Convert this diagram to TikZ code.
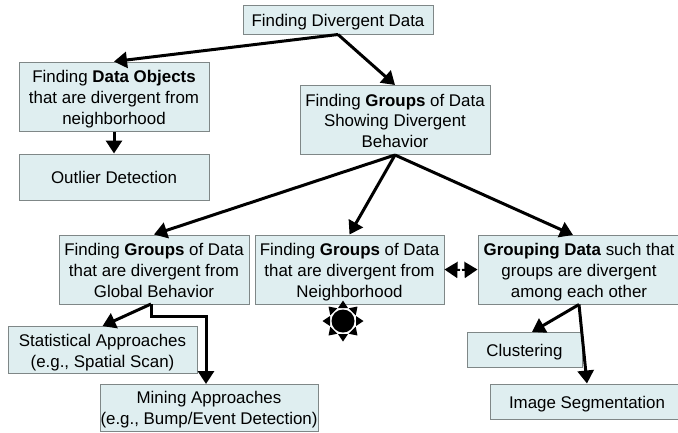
\documentclass[tikz,border=0pt]{standalone}
\usepackage{fontspec}
\setmainfont{Liberation Sans}
\usetikzlibrary{arrows.meta,calc}
\newcommand\boxlines[1]{\vbox{\kern5.4pt\hbox{\begin{tabular}{@{}c@{}}#1\end{tabular}}}}
\tikzset{
  box/.style={draw=boxedge,fill=boxfill,line width=1pt,inner sep=0pt,
    font=\fontsize{16.9}{20.7}\selectfont,text=black},
  conn/.style={draw=black,line width=3pt,-{Triangle[length=13pt,width=16pt]}},
  ray/.style={fill=black,draw=none}
}
\definecolor{boxfill}{HTML}{DFEEF0}
\definecolor{boxedge}{HTML}{7F8787}
\begin{document}
\begin{tikzpicture}[x=1pt,y=-1pt]
\useasboundingbox (0,0) rectangle (678,432);
\node[box,minimum width=190pt,minimum height=29pt] (top) at (338,19.5) {\boxlines{Finding Divergent Data}};
\node[box,minimum width=190pt,minimum height=69pt] (objects) at (114,96.5) {\boxlines{Finding \textbf{Data Objects}\\that are divergent from\\neighborhood}};
\node[box,minimum width=190pt,minimum height=46pt] (outlier) at (114,177) {\boxlines{Outlier Detection}};
\node[box,minimum width=190pt,minimum height=69pt] (groups) at (395,120) {\boxlines{Finding \textbf{Groups} of Data\\Showing Divergent\\Behavior}};
\node[box,minimum width=190pt,minimum height=69pt] (global) at (154,269.5) {\boxlines{Finding \textbf{Groups} of Data\\that are divergent from\\Global Behavior}};
\node[box,minimum width=189pt,minimum height=69pt] (neigh) at (349.5,269.5) {\boxlines{Finding \textbf{Groups} of Data\\that are divergent from\\Neighborhood}};
\node[box,minimum width=202pt,minimum height=69pt] (grouping) at (579,269.5) {\boxlines{\textbf{Grouping Data} such that\\groups are divergent\\among each other}};
\node[box,minimum width=189pt,minimum height=46pt] (stat) at (102.5,350) {\boxlines{Statistical Approaches\\(e.g., Spatial Scan)}};
\node[box,minimum width=218pt,minimum height=47pt] (mining) at (209,407.5) {\boxlines{Mining Approaches\\(e.g., Bump/Event Detection)}};
\node[box,minimum width=115pt,minimum height=35pt] (cluster) at (524.5,349.5) {\boxlines{Clustering}};
\node[box,minimum width=194pt,minimum height=35pt] (image) at (587,401.5) {\boxlines{Image Segmentation}};
% connectors
\coordinate (groupingin) at (573,235);
\coordinate (clusterin) at (532,332);
\coordinate (minein) at (206,384);
\coordinate (elbowa) at (151,316);
\coordinate (elbowb) at (206,316);
\coordinate (bendstart) at (151,304);
\coordinate (midl) at (460,270);
\coordinate (midr) at (462,270);
\draw[conn] (top.south) -- (objects.north);
\draw[conn] (top.south) -- (groups.north);
\draw[conn] (objects.south) -- (outlier.north);
\draw[conn] (groups.south) -- (global.north);
\draw[conn] (groups.south) -- (neigh.north);
\draw[conn] (groups.south) -- (groupingin);
\draw[conn] (bendstart) -- (stat.north);
\draw[conn] (bendstart) -- (elbowa) -- (elbowb) -- (minein);
\draw[conn] (grouping.south) -- (clusterin);
\draw[conn] (grouping.south) -- (image.north);
\draw[conn,line width=2pt] (midl) -- (neigh.east);
\draw[conn,line width=2pt] (midr) -- (grouping.west);
% sun
\fill[black] (343,321) circle (11.5);
\foreach \a in {0,45,...,315}{
  \fill[ray,rotate around={\a:(343,321)}] (356,316) -- (363.5,321) -- (356,326) -- cycle;
}
\end{tikzpicture}
\end{document}
